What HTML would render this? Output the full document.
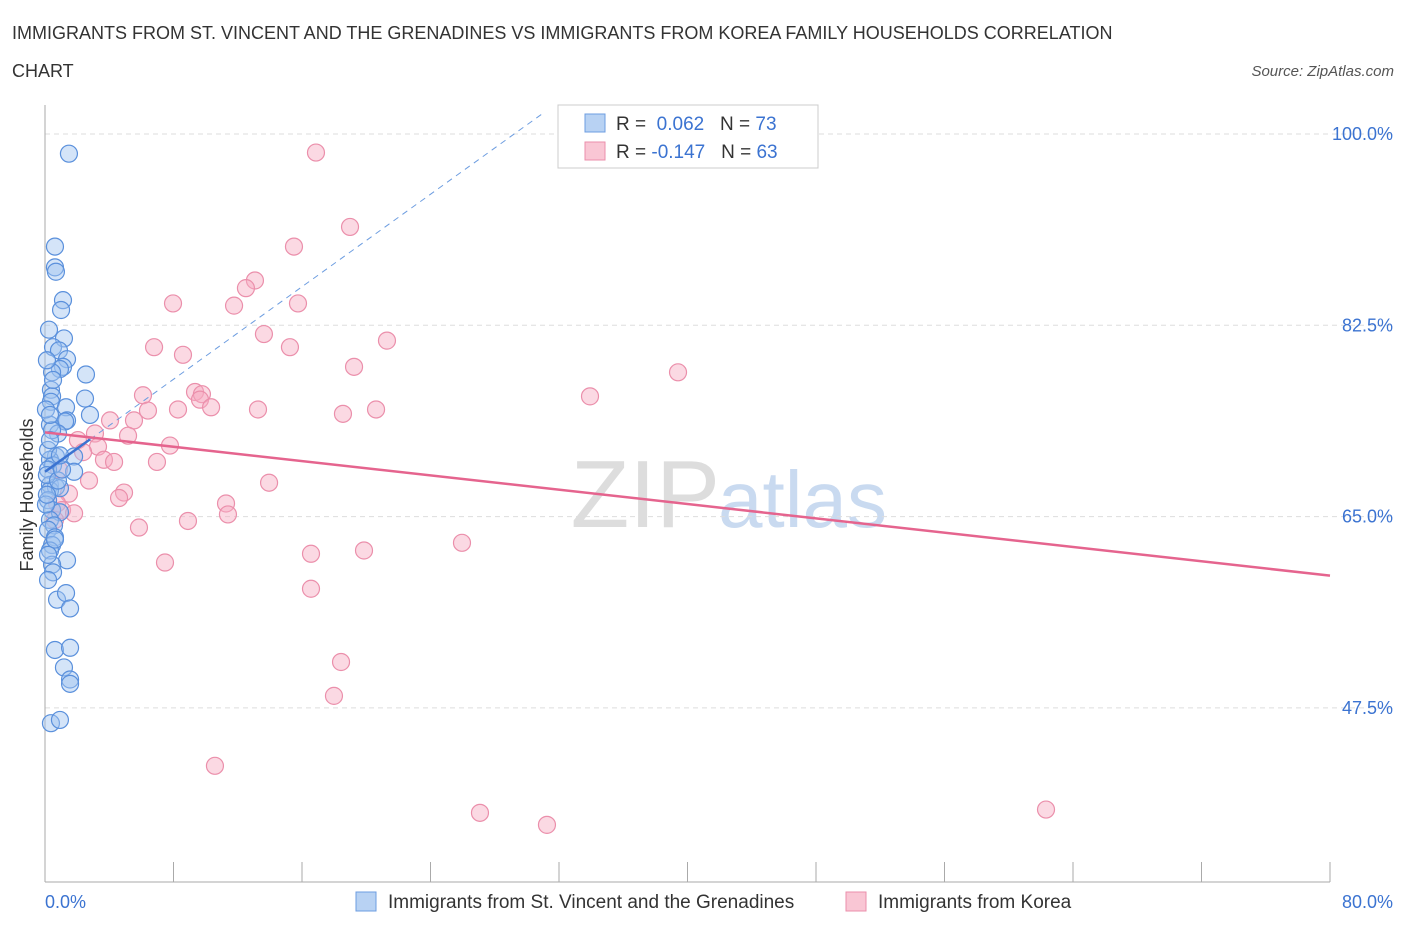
<!DOCTYPE html>
<html><head><meta charset="utf-8">
<style>
body{margin:0;background:#fff;font-family:"Liberation Sans",sans-serif;}
svg text{font-family:"Liberation Sans",sans-serif;}
</style></head>
<body>
<svg width="1406" height="930" xmlns="http://www.w3.org/2000/svg">
<text x="12" y="39" font-size="18" fill="#333">IMMIGRANTS FROM ST. VINCENT AND THE GRENADINES VS IMMIGRANTS FROM KOREA FAMILY HOUSEHOLDS CORRELATION</text>
<text x="12" y="77" font-size="18" fill="#333">CHART</text>
<text x="1394" y="76" font-size="15" fill="#555" font-style="italic" text-anchor="end">Source: ZipAtlas.com</text>
<text x="720" y="527" font-size="96" fill="#ddd" text-anchor="end" font-family="Liberation Serif">ZIP</text>
<text x="718" y="527" font-size="80" fill="#c9daf0">atlas</text>
<g id="grid"></g>
<g id="marks"></g>
<text x="33" y="495" font-size="18" fill="#333" transform="rotate(-90 33 495)" text-anchor="middle">Family Households</text>
<g>
<rect x="558" y="105" width="260" height="63" fill="#fff" stroke="#ccc"/>
<rect x="585" y="114" width="20" height="18" fill="#b8d2f3" stroke="#6d9de0"/>
<rect x="585" y="142" width="20" height="18" fill="#f9c6d4" stroke="#eb8fab"/>
<text x="616" y="130" font-size="19" fill="#333">R = <tspan fill="#3b73d1">&#160;0.062</tspan>&#160;&#160;&#160;N = <tspan fill="#3b73d1">73</tspan></text>
<text x="616" y="158" font-size="19" fill="#333">R = <tspan fill="#3b73d1">-0.147</tspan>&#160;&#160;&#160;N = <tspan fill="#3b73d1">63</tspan></text>
</g>
<g>
<rect x="356" y="892" width="20" height="19" fill="#b8d2f3" stroke="#6d9de0"/>
<text x="388" y="908" font-size="19" fill="#333">Immigrants from St. Vincent and the Grenadines</text>
<rect x="846" y="892" width="20" height="19" fill="#f9c6d4" stroke="#eb8fab"/>
<text x="878" y="908" font-size="19" fill="#333">Immigrants from Korea</text>
</g>
</svg>
<script>
const xTicks=["0.0%","80.0%"];
const yTickVals=[100,82.5,65,47.5];
const blueX=[1.49,.62,.62,.68,1.12,1.0,.25,1.18,.5,.87,1.37,1.12,.93,.44,2.55,.37,.44,.37,2.49,1.31,2.8,1.37,1.25,.31,.81,.44,1.81,.68,.31,.5,.19,1.81,.31,.68,.31,.93,.19,.44,.93,.31,.56,.19,.62,.44,.31,1.37,.44,.5,.19,.75,1.31,1.56,.62,1.56,1.18,1.56,1.56,.37,.93,.19,.12,.06,.62,.19,.31,.81,1.06,.06,.31,.12,.5,.12,.93];
const blueY=[98.2,89.7,87.8,87.4,84.8,83.9,82.1,81.3,80.5,80.2,79.4,78.7,78.5,78.2,78.0,76.6,76.0,75.5,75.8,75.0,74.3,73.8,73.7,73.4,72.6,72.9,70.5,70.5,70.2,69.7,69.3,69.1,67.9,67.7,67.4,67.6,66.5,65.6,65.4,64.7,64.2,63.8,63.1,62.4,61.9,61.0,60.6,59.9,59.2,57.4,58.0,56.6,52.8,53.0,51.2,50.1,49.7,46.1,46.4,71.1,68.8,66.1,62.9,61.5,72.0,68.3,69.3,74.8,74.3,79.3,77.5,67.0,70.6];
const pinkX=[39.3,16.87,18.99,15.5,13.07,12.51,7.97,15.75,11.77,13.63,6.79,8.59,15.25,21.29,19.24,39.41,33.93,6.1,9.34,9.77,9.65,6.41,8.28,10.34,13.26,18.55,20.61,4.05,5.54,3.11,5.17,2.05,3.3,7.78,2.37,3.67,4.3,6.97,.87,2.74,13.95,4.92,1.49,4.61,11.27,.75,1.06,1.81,11.39,.62,8.9,5.85,25.96,19.86,16.56,7.47,16.56,18.43,17.99,10.58,27.08,31.25,62.32];
const pinkY=[101.6,98.3,91.5,89.7,86.6,85.9,84.5,84.5,84.3,81.7,80.5,79.8,80.5,81.1,78.7,78.2,76.0,76.1,76.4,76.2,75.7,74.7,74.8,75.0,74.8,74.4,74.8,73.8,73.8,72.6,72.4,72.0,71.4,71.5,70.9,70.2,70.0,70.0,69.3,68.3,68.1,67.2,67.1,66.7,66.2,66.2,65.6,65.3,65.2,64.7,64.6,64.0,62.6,61.9,61.6,60.8,58.4,51.7,48.6,42.2,37.9,36.8,38.2];
const pinkTrend=[72.7,59.6];
const blueTrend=[69.1,102.0];
const blueSolidEnd=2.8, blueDashEnd=31.1;
const X=v=>45+v/80*1285;
const Y=v=>134+(100-v)/17.5*191.3;
const NS="http://www.w3.org/2000/svg";
function mk(t,a,p){const e=document.createElementNS(NS,t);for(const k in a)e.setAttribute(k,a[k]);p.appendChild(e);return e;}
const g=document.getElementById('grid'), m=document.getElementById('marks');
yTickVals.forEach(v=>{
 const l=mk('line',{x1:45,x2:1395,y1:Y(v),y2:Y(v),stroke:'#ddd','stroke-dasharray':'5,4'},g);
 
 
 const t=mk('text',{x:1393,y:Y(v)+6,'font-size':18,fill:'#3b73d1','text-anchor':'end'},g);
 t.textContent=v.toFixed(1)+'%';
 
 
});
mk('line',{x1:45,x2:45,y1:105,y2:882,stroke:'#aaa'},g);
mk('line',{x1:45,x2:1330,y1:882,y2:882,stroke:'#aaa'},g);
for(let i=0;i<=10;i++){
 const tk=mk('line',{x1:X(i*8),x2:X(i*8),y1:862,y2:882,stroke:'#aaa'},g);
 
 
}
[[0,'start',45],[1,'end',1393]].forEach(([i,a,x])=>{
 const t=mk('text',{x:x,y:908,'font-size':18,fill:'#3b73d1','text-anchor':a},g);
 t.textContent=xTicks[i];
 
 
});
pinkX.forEach((x,i)=>{
 const c=mk('circle',{cx:X(x),cy:Y(pinkY[i]),r:8.5,fill:'rgba(246,170,194,0.45)',stroke:'#eb8fab','stroke-width':1.2},m);
 
 
});
blueX.forEach((x,i)=>{
 const c=mk('circle',{cx:X(x),cy:Y(blueY[i]),r:8.5,fill:'rgba(160,196,240,0.45)',stroke:'#5a90dc','stroke-width':1.2},m);
 
 
});
const bAt=x=>blueTrend[0]+(blueTrend[1]-blueTrend[0])*x/blueDashEnd;
const bd=mk('line',{x1:X(blueSolidEnd),y1:Y(bAt(blueSolidEnd)),x2:X(blueDashEnd),y2:Y(blueTrend[1]),stroke:'#6d9de0','stroke-width':1,'stroke-dasharray':'6,5'},m);


const bs=mk('line',{x1:X(0),y1:Y(blueTrend[0]),x2:X(blueSolidEnd),y2:Y(bAt(blueSolidEnd)),stroke:'#3b73d1','stroke-width':2.5},m);


const pl=mk('line',{x1:X(0),y1:Y(pinkTrend[0]),x2:X(80),y2:Y(pinkTrend[1]),stroke:'#e5648e','stroke-width':2.5},m);


</script>
</body></html>
